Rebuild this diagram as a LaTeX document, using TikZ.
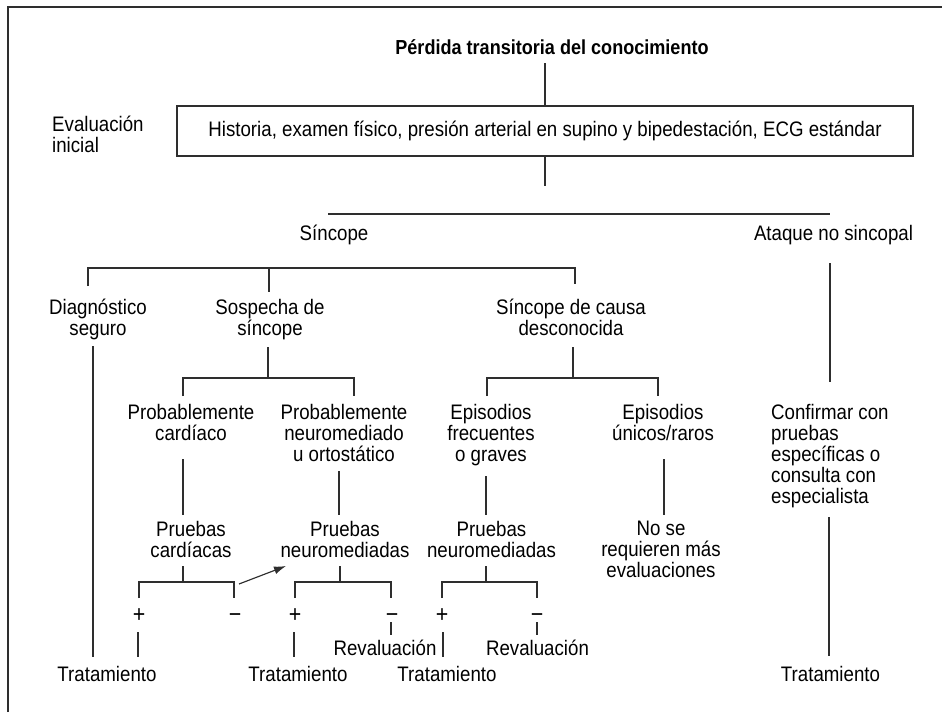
\documentclass[tikz,border=0pt]{standalone}
\usepackage{fontspec}
\setmainfont{Liberation Sans}[FakeStretch=0.89]
\usetikzlibrary{arrows.meta,calc}
\lineskiplimit=-100pt
\lineskip=0pt
\begin{document}
\begin{tikzpicture}[x=1pt,y=-1pt,
  every node/.style={font=\fontsize{21}{21}\selectfont},
  txt/.style={align=center,inner sep=0pt,anchor=north,
    execute at begin node={\rule{0pt}{17pt}}},
  ltxt/.style={align=left,inner sep=0pt,anchor=north west,
    execute at begin node={\rule{0pt}{17pt}}},
  sign/.style={inner sep=0pt,anchor=base,font=\fontsize{24}{24}\selectfont},
  ln/.style={line width=1.15pt,draw=black!82},
  boxst/.style={draw=black!82,line width=1.15pt,minimum width=736pt,minimum height=50pt,inner sep=0pt}]
\useasboundingbox (0,0) rectangle (942,712);
\draw[ln] (8,712) -- (8,7) -- (942,7);

% nodes
\node[txt,font=\fontsize{20.3}{21}\selectfont\bfseries] (title) at (552,37) {Pérdida transitoria del conocimiento};
\node[boxst] (box) at (545,131) {Historia, examen físico, presión arterial en supino y bipedestación, ECG estándar};
\node[ltxt] (evalini) at (52,116) {Evaluación\\inicial};
\node[txt] (sinc) at (334,223) {Síncope};
\node[txt] (ataque) at (833.5,223) {Ataque no sincopal};
\node[txt] (diag) at (98,299) {Diagnóstico\\seguro};
\node[txt] (sosp) at (270,299) {Sospecha de\\síncope};
\node[txt] (desc) at (571,299) {Síncope de causa\\desconocida};
\node[txt] (pcard) at (191,404) {Probablemente\\cardíaco};
\node[txt] (pneuro) at (344,404) {Probablemente\\neuromediado\\u ortostático};
\node[txt] (efrec) at (491,404) {Episodios\\frecuentes\\o graves};
\node[txt] (eunic) at (663,404) {Episodios\\únicos/raros};
\node[ltxt] (confirm) at (771,404) {Confirmar con\\pruebas\\específicas o\\consulta con\\especialista};
\node[txt] (prcard) at (191,521) {Pruebas\\cardíacas};
\node[txt] (prneuA) at (345,521) {Pruebas\\neuromediadas};
\node[txt] (prneuB) at (491.5,521) {Pruebas\\neuromediadas};
\node[txt] (nose) at (661,521) {No se\\requieren más\\evaluaciones};
\node[sign] (plA) at (139,622) {+};
\node[sign] (miA) at (235,622) {−};
\node[sign] (plB) at (295,622) {+};
\node[sign] (miB) at (392,622) {−};
\node[sign] (plC) at (442,622) {+};
\node[sign] (miC) at (537,622) {−};
\node[txt] (trA) at (107,664) {Tratamiento};
\node[txt] (trB) at (298,664) {Tratamiento};
\node[txt] (trC) at (447,664) {Tratamiento};
\node[txt] (trD) at (830.5,664) {Tratamiento};
\node[txt] (revB) at (385,638) {Revaluación};
\node[txt] (revC) at (537.5,638) {Revaluación};

% junction coordinates
\coordinate (j0) at (545,63);
\coordinate (j1) at (545,186);
\coordinate (j1l) at (328,214);
\coordinate (j1r) at (830,214);
\coordinate (j2) at (269,268);
\coordinate (j2l) at (88,286);
\coordinate (j2m) at (269,292);
\coordinate (j2r) at (575,284);
\coordinate (j3) at (268,378);
\coordinate (j4) at (573,378);
\coordinate (j5) at (183,582);
\coordinate (j6) at (340,582);
\coordinate (j7) at (486,582);

% connectors
\draw[ln] (j0) -- (box.north);
\draw[ln] (box.south) -- (j1);
\draw[ln] (j1l) |- (j1r);
\draw[ln] (j2l) |- (j2) -| (j2r);
\draw[ln] (j2) -- (j2m);
\draw[ln] (830,263) -- (830,382);
\draw[ln] (93,346) -- (93,657);
\draw[ln] (268,347) -- (j3);
\draw[ln] (183,396) |- (j3) -| (354,396);
\draw[ln] (573,347) -- (j4);
\draw[ln] (487,396) |- (j4) -| (658,396);
\draw[ln] (183,459) -- (183,515);
\draw[ln] (339,471) -- (339,515);
\draw[ln] (486,476) -- (486,515);
\draw[ln] (664,459) -- (664,515);
\draw[ln] (829,517) -- (829,656);
\draw[ln] (183,566) -- (j5);
\draw[ln] (139,598) |- (j5) -| (234,598);
\draw[ln] (340,566) -- (j6);
\draw[ln] (295,598) |- (j6) -| (391,598);
\draw[ln] (486,566) -- (j7);
\draw[ln] (442,598) |- (j7) -| (537,598);
\draw[ln] (138,632) -- (138,657);
\draw[ln] (294,632) -- (294,657);
\draw[ln] (443,632) -- (443,657);
\draw[ln] (391,622) -- (391,635);
\draw[ln] (537,622) -- (537,635);
\draw[ln,-{Latex[length=12pt,width=8pt]}] (239,584) -- (286,566);
\end{tikzpicture}
\end{document}
